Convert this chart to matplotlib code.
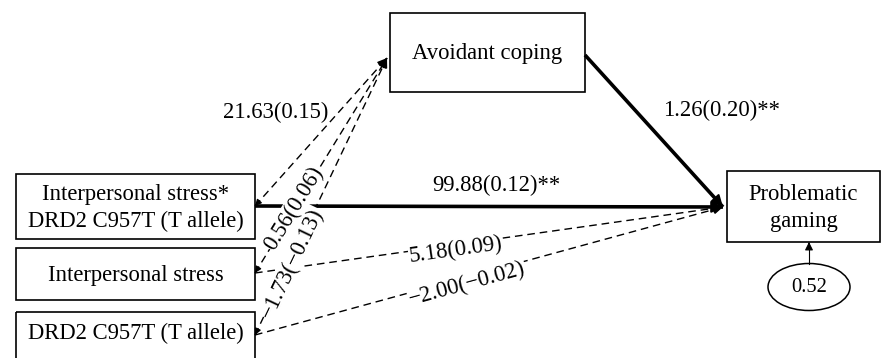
import numpy as np
import matplotlib.pyplot as plt
from matplotlib.patches import Rectangle, Ellipse

plt.rcParams['font.family'] = ['Liberation Serif', 'DejaVu Serif']

# model variables
predictors = ['Interpersonal stress*\nDRD2 C957T (T allele)', 'Interpersonal stress', 'DRD2 C957T (T allele)']
mediator = 'Avoidant coping'
outcome = 'Problematic\ngaming'
residual = '0.52'

# path coefficients, unstandardized (standardized), ** p < .01
a_paths = ['21.63(0.15)', '0.56(0.06)', '\u22121.73(\u22120.13)']    # predictor -> mediator
c_paths = ['99.88(0.12)**', '5.18(0.09)', '\u22122.00(\u22120.02)']  # predictor -> outcome
b_path = '1.26(0.20)**'                                        # mediator -> outcome
c_sig = [True, False, False]
a_sig = [False, False, False]

# layout in pixels (x0, y0, x1, y1)
pred_boxes = [(16, 174, 255, 239), (16, 248, 255, 300), (16, 312, 255, 380)]
pred_ports = [(255, 206), (255, 273), (255, 335)]
pred_text_y = [208, 275, 333]
med_box = (390, 13, 585, 92)
med_in = (387, 58)
med_out = (585, 55)
out_box = (727, 171, 880, 242)
out_in = (723, 207)
res_c, res_w, res_h = (809, 287), 82, 47

a_lab_pos = [(276, 112, None), (294, 208, 'line'), (292, 263, 'line')]
c_lab_pos = [(496, 185, None), (456, 250, 'line'), (467, 284, 'line')]
b_lab_pos = (722, 110)

FS = 16.3

fig = plt.figure(figsize=(8.81, 3.58), dpi=100)
ax = fig.add_axes([0, 0, 1, 1])
ax.set_xlim(0, 881)
ax.set_ylim(358, 0)
ax.axis('off')


def box(b, text, ty=None):
    x0, y0, x1, y1 = b
    ax.add_patch(Rectangle((x0, y0), x1 - x0, y1 - y0, fill=False, ec='black', lw=1.2, zorder=3))
    if ty is None:
        ty = (y0 + y1) / 2
    ax.text((x0 + x1) / 2, ty, text, ha='center', va='center', fontsize=FS,
            linespacing=1.4, zorder=4)


def head(tip, frm, scale, lw=1.0):
    d = np.subtract(tip, frm, dtype=float)
    d /= np.hypot(*d)
    ax.annotate('', xy=tip, xytext=tuple(np.array(tip) - d * 2),
                arrowprops=dict(arrowstyle='-|>', color='black', lw=lw,
                                mutation_scale=scale, shrinkA=0, shrinkB=0), zorder=5)


def path(p0, p1, sig):
    if sig:
        ax.plot([p0[0], p1[0]], [p0[1], p1[1]], color='black', lw=2.6, zorder=2,
                solid_capstyle='butt')
    else:
        ax.plot([p0[0], p1[0]], [p0[1], p1[1]], color='black', lw=1.0, zorder=2,
                dashes=(5.5, 3.5))
    head(p1, p0, 17 if sig else 14, 1.5 if sig else 1.0)


def angle(p0, p1):
    return np.degrees(np.arctan2(p0[1] - p1[1], p1[0] - p0[0]))


def label(txt, pos, p0, p1):
    x, y, mode = pos
    rot = angle(p0, p1) if mode == 'line' else 0
    ax.text(x, y, txt, ha='center', va='center', rotation=rot, rotation_mode='anchor',
            fontsize=FS, zorder=6,
            bbox=dict(facecolor='white', edgecolor='none', pad=0.5))


for b, t, ty in zip(pred_boxes, predictors, pred_text_y):
    box(b, t, ty)
box(med_box, mediator, 54)
box(out_box, outcome, 208)

for i, p in enumerate(pred_ports):
    path(p, med_in, a_sig[i])
    path(p, out_in, c_sig[i])
    head(p, med_in, 9)
    label(a_paths[i], a_lab_pos[i], p, med_in)
    label(c_paths[i], c_lab_pos[i], p, out_in)

path(med_out, out_in, True)
ax.text(b_lab_pos[0], b_lab_pos[1], b_path, ha='center', va='center', fontsize=FS, zorder=6)

ax.add_patch(Ellipse(res_c, res_w, res_h, fill=False, ec='black', lw=1.1, zorder=3))
ax.text(res_c[0], res_c[1], residual, ha='center', va='center', fontsize=FS - 1.5, zorder=4)
res_top = (res_c[0], res_c[1] - res_h / 2)
ax.plot([res_top[0], res_top[0]], [res_top[1], out_box[3] + 8], color='black', lw=0.8)
head((res_c[0], out_box[3]), res_top, 12, 0.8)

plt.savefig('out.png', dpi=100, facecolor='w')
